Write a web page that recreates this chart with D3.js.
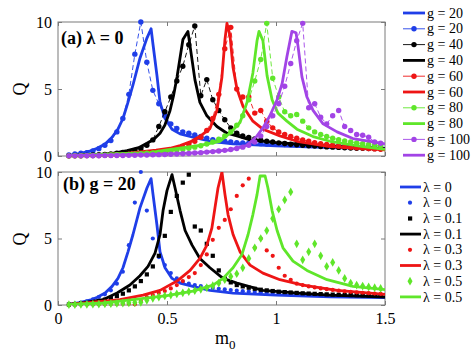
<!DOCTYPE html>
<html><head><meta charset="utf-8">
<script src="https://cdn.jsdelivr.net/npm/d3@7"></script>
<style>body{margin:0;background:#fff}svg{display:block}</style>
</head><body><svg id="c" width="474" height="363"></svg>
<script>
// ---------- DATA ----------
const m0Grid = d3.range(53).map(i => +(0.05 + 0.0275 * i).toFixed(4));
const xTicks = [0, 0.5, 1, 1.5];
const xTickLabels = ["0", "0.5", "1", "1.5"];
const yTicks = [0, 5, 10];
const yTickLabels = ["0", "5", "10"];

// panel (a) lambda = 0 : simulation dots (on m0Grid)
const dotsA_g20 = [0.07,0.15,0.2,0.25,0.37,0.55,0.8,1.15,1.8,2.8,4.6,7.6,10.0,7.0,4.9,3.9,3.0,2.4,2.05,1.8,1.7,1.57,1.45,1.32,1.22,1.15,1.1,1.05,1.0,0.98,0.96,0.94,0.92,0.9,0.88,0.87,0.86,0.84,0.83,0.82,0.81,0.8,0.79,0.78,0.77,0.76,0.75,0.74,0.73,0.72,0.71,0.7,0.7];
const dotsA_g40 = [0.02,0.03,0.04,0.05,0.07,0.09,0.12,0.15,0.2,0.26,0.33,0.42,0.55,0.8,1.2,2.2,3.3,4.4,5.6,6.7,8.3,9.7,4.5,5.7,4.2,3.4,2.7,2.1,1.7,1.5,1.38,1.27,1.18,1.1,1.04,0.98,0.93,0.88,0.84,0.8,0.77,0.74,0.71,0.68,0.66,0.64,0.62,0.6,0.58,0.57,0.56,0.55,0.54];
const dotsA_g60 = [0.01,0.02,0.02,0.03,0.03,0.04,0.05,0.06,0.07,0.09,0.11,0.13,0.16,0.19,0.23,0.28,0.34,0.42,0.52,0.65,0.85,1.1,1.4,1.9,2.8,4.6,8.0,9.6,5.0,4.4,4.4,3.2,3.4,2.6,2.1,1.8,1.6,1.45,1.32,1.2,1.1,1.0,0.92,0.86,0.8,0.75,0.7,0.66,0.62,0.59,0.56,0.53,0.5];
const dotsA_g80 = [0.01,0.02,0.02,0.03,0.04,0.05,0.06,0.07,0.09,0.1,0.12,0.14,0.17,0.2,0.23,0.27,0.31,0.36,0.42,0.49,0.57,0.66,0.77,0.9,1.05,1.25,1.5,1.8,2.3,3.0,4.2,5.6,7.2,9.9,5.8,4.4,3.3,3.0,3.1,2.6,2.1,1.8,1.6,1.45,1.32,1.22,1.13,1.05,0.98,0.92,0.87,0.82,0.78];
const dotsA_g100 = [0.01,0.01,0.01,0.02,0.02,0.02,0.03,0.03,0.04,0.04,0.05,0.06,0.07,0.08,0.09,0.1,0.11,0.13,0.15,0.17,0.19,0.22,0.25,0.29,0.33,0.37,0.42,0.48,0.56,0.66,0.8,1.05,1.5,2.2,3.0,3.9,5.2,6.9,8.6,9.9,3.6,3.9,2.9,2.4,3.0,3.4,2.2,1.9,1.6,1.55,1.4,1.05,0.95];

// panel (a) theory curves
const lineA_g20_m = [0.05,0.10,0.15,0.18,0.216,0.248,0.275,0.298,0.321,0.344,0.376,0.408,0.427,0.436,0.454,0.468,0.491,0.523,0.560,0.619,0.697,0.803,1.0,1.25,1.5];
const lineA_g20_Q = [0.05,0.18,0.38,0.58,0.9,1.4,2.0,2.8,4.0,5.3,7.3,8.8,9.5,8.3,6.0,4.0,2.8,2.0,1.65,1.4,1.1,0.9,0.75,0.62,0.55];
const lineA_g40_m = [0.05,0.179,0.25,0.317,0.37,0.408,0.44,0.468,0.49,0.514,0.53,0.546,0.573,0.596,0.612,0.628,0.651,0.683,0.729,0.775,0.821,0.881,1.0,1.096,1.3,1.5];
const lineA_g40_Q = [0.02,0.1,0.2,0.4,0.62,0.95,1.25,1.7,2.3,3.4,4.5,5.9,8.7,9.3,7.5,5.7,4.0,3.0,2.2,1.7,1.5,1.2,1.0,0.9,0.7,0.55];
const lineA_g60_m = [0.05,0.193,0.3,0.376,0.45,0.514,0.56,0.606,0.65,0.697,0.729,0.752,0.766,0.775,0.789,0.803,0.821,0.849,0.894,0.940,1.018,1.096,1.248,1.5];
const lineA_g60_Q = [0.02,0.1,0.18,0.3,0.43,0.58,0.78,1.05,1.45,2.05,3.4,5.9,8.7,9.9,9.0,6.6,5.0,3.7,2.6,2.0,1.5,1.1,0.7,0.45];
const lineA_g80_m = [0.05,0.193,0.422,0.5,0.651,0.743,0.789,0.835,0.867,0.894,0.913,0.922,0.94,0.959,0.982,1.009,1.05,1.096,1.17,1.248,1.399,1.5];
const lineA_g80_Q = [0.02,0.12,0.25,0.45,0.8,1.1,1.7,2.5,4.0,6.2,8.6,9.3,8.6,6.0,4.2,3.2,2.6,2.0,1.45,1.1,0.7,0.5];
const lineA_g100_m = [0.05,0.422,0.651,0.789,0.867,0.913,0.94,0.972,1.005,1.028,1.05,1.073,1.092,1.101,1.119,1.142,1.17,1.216,1.28,1.353,1.431,1.5];
const lineA_g100_Q = [0.02,0.1,0.25,0.45,0.8,1.5,2.1,3.0,4.2,5.4,7.4,9.3,9.2,8.2,5.9,4.4,3.4,2.4,1.8,1.3,1.1,0.9];

// panel (b) g = 20 : simulation markers (on m0Grid)
const dotsB_l0 = [0.05,0.1,0.18,0.28,0.42,0.6,0.8,1.1,1.6,2.5,4.5,7.7,10.0,7.1,5.0,3.6,3.0,2.4,2.0,1.75,1.6,1.5,1.42,1.35,1.28,1.22,1.17,1.12,1.08,1.04,1.0,0.97,0.95,0.92,0.9,0.88,0.86,0.84,0.82,0.8,0.79,0.78,0.77,0.76,0.75,0.74,0.73,0.72,0.71,0.7,0.69,0.68,0.67];
const dotsB_l01 = [0.03,0.06,0.1,0.15,0.22,0.3,0.4,0.52,0.67,0.85,1.1,1.4,1.8,2.3,2.9,3.7,5.2,7.0,8.2,9.2,9.8,5.9,5.6,4.6,3.7,2.6,2.0,1.7,1.5,1.4,1.3,1.22,1.15,1.1,1.05,1.0,0.97,0.94,0.91,0.88,0.86,0.84,0.82,0.8,0.78,0.77,0.76,0.75,0.74,0.73,0.72,0.71,0.7];
const dotsB_l03 = [0.02,0.02,0.03,0.03,0.04,0.05,0.06,0.07,0.08,0.09,0.1,0.05,0.3,0.6,0.75,0.9,1.05,1.25,1.5,1.8,2.1,2.4,3.0,3.8,4.9,5.8,6.4,7.2,8.2,9.0,9.5,4.3,5.0,4.1,3.7,2.8,2.2,1.9,1.6,1.5,1.4,1.32,1.25,1.19,1.13,1.08,1.03,0.99,0.95,0.92,0.89,0.86,0.84];
const dotsB_l05 = [0.02,0.03,0.04,0.05,0.06,0.07,0.09,0.1,0.12,0.14,0.16,0.18,0.2,0.35,0.5,0.6,0.68,0.75,0.83,0.92,1.0,1.08,1.18,1.3,1.45,1.65,1.9,2.15,2.35,2.8,3.5,4.3,5.0,5.6,6.5,7.2,7.9,8.5,4.6,3.4,4.0,4.6,3.7,2.9,3.2,2.6,2.0,1.65,1.5,1.42,1.36,1.3,1.25];

// panel (b) theory curves
const lineB_l0_m = [0.05,0.10,0.15,0.18,0.216,0.248,0.275,0.298,0.321,0.344,0.376,0.408,0.427,0.436,0.454,0.468,0.491,0.523,0.560,0.619,0.697,0.803,1.0,1.25,1.5];
const lineB_l0_Q = [0.05,0.18,0.38,0.58,0.9,1.4,2.0,2.8,4.0,5.3,7.3,8.8,9.5,8.3,6.0,4.0,2.8,2.0,1.65,1.4,1.1,0.9,0.75,0.62,0.55];
const lineB_l01_m = [0.05,0.115,0.206,0.271,0.33,0.376,0.413,0.445,0.468,0.482,0.5,0.523,0.537,0.56,0.583,0.615,0.651,0.697,0.757,0.821,0.94,1.1,1.248,1.5];
const lineB_l01_Q = [0.05,0.15,0.4,0.9,1.5,2.2,2.9,3.9,5.3,7.1,8.6,9.8,8.8,7.1,5.6,4.5,3.5,2.8,2.0,1.65,1.1,0.9,0.75,0.6];
const lineB_l03_m = [0.05,0.147,0.284,0.39,0.468,0.546,0.606,0.651,0.683,0.706,0.72,0.734,0.752,0.766,0.78,0.803,0.835,0.881,0.94,1.018,1.124,1.28,1.5];
const lineB_l03_Q = [0.05,0.2,0.4,0.75,1.1,1.8,2.6,3.5,4.5,5.8,7.3,8.8,10.0,8.3,6.8,5.3,4.0,3.0,2.4,1.9,1.5,1.1,0.8];
const lineB_l05_m = [0.05,0.206,0.344,0.5,0.619,0.711,0.757,0.803,0.844,0.872,0.894,0.913,0.927,0.95,0.963,0.982,1.005,1.032,1.078,1.142,1.234,1.353,1.5];
const lineB_l05_Q = [0.05,0.15,0.4,0.7,1.05,1.5,2.0,2.8,3.8,5.3,6.8,8.3,9.7,9.7,8.8,7.1,5.6,4.3,3.3,2.6,1.9,1.4,1.15];

const legendA_labels = ["g = 20","g = 20","g = 40","g = 40","g = 60","g = 60","g = 80","g = 80","g = 100","g = 100"];
const legendB_labels = ["λ = 0","λ = 0","λ = 0.1","λ = 0.1","λ = 0.3","λ = 0.3","λ = 0.5","λ = 0.5"];

// ---------- STYLE ----------
const C = {blue:"#1f3ee8", black:"#000000", red:"#ee1515", green:"#5fe62a", purple:"#a244e6"};
const axisColor = "#7a7a7a";
const FONT = "'Liberation Serif','Times New Roman',serif";

const svg = d3.select("#c");
const x = d3.scaleLinear().domain([0, 1.5]).range([58, 385]);
const yA = d3.scaleLinear().domain([0, 10]).range([156, 22]);
const yB = d3.scaleLinear().domain([0, 10]).range([305, 172]);

function frame(y, showX, id) {
  const g = svg.append("g");
  svg.append("clipPath").attr("id", id).append("rect")
    .attr("x", x(0)).attr("y", y(10)).attr("width", x(1.5) - x(0)).attr("height", y(0) - y(10));
  const axes = [
    [d3.axisLeft(y).tickValues(yTicks).tickSize(-4).tickPadding(6).tickFormat((d,i)=>yTickLabels[i]), `translate(${x(0)},0)`],
    [d3.axisRight(y).tickValues(yTicks).tickSize(-4).tickFormat(""), `translate(${x(1.5)},0)`],
    [d3.axisBottom(x).tickValues(xTicks).tickSize(-4).tickPadding(8).tickFormat((d,i)=> showX ? xTickLabels[i] : ""), `translate(0,${y(0)})`],
    [d3.axisTop(x).tickValues(xTicks).tickSize(-4).tickFormat(""), `translate(0,${y(10)})`]
  ];
  axes.forEach(([ax, tr]) => {
    const a = g.append("g").attr("transform", tr).call(ax);
    a.select(".domain").remove();
    a.selectAll("line").attr("stroke", axisColor);
    a.selectAll("text").attr("font-family", FONT).attr("font-size", 16).attr("fill", "#000");
  });
  g.append("rect").attr("x", x(0)).attr("y", y(10)).attr("width", x(1.5) - x(0)).attr("height", y(0) - y(10))
    .attr("fill", "none").attr("stroke", axisColor).attr("stroke-width", 1);
  return g;
}

frame(yA, false, "clipA");
frame(yB, true, "clipB");

function solid(y, ms, qs, color, clip) {
  const pts = ms.map((m, i) => [m, qs[i]]);
  svg.append("path").attr("d", d3.line().x(d => x(d[0])).y(d => y(d[1]))(pts))
    .attr("fill", "none").attr("stroke", color).attr("stroke-width", 2.8)
    .attr("stroke-linejoin", "round").attr("clip-path", `url(#${clip})`);
}
function dotted(y, qs, color, clip, r) {
  const pts = qs.map((q, i) => [m0Grid[i], q]);
  svg.append("path").attr("d", d3.line().x(d => x(d[0])).y(d => y(d[1]))(pts))
    .attr("fill", "none").attr("stroke", color).attr("stroke-width", 0.9)
    .attr("stroke-dasharray", "5,3").attr("clip-path", `url(#${clip})`);
  svg.append("g").selectAll("circle").data(pts).join("circle")
    .attr("cx", d => x(d[0])).attr("cy", d => y(d[1])).attr("r", r).attr("fill", color);
}
function markers(y, qs, color, shape) {
  const pts = qs.map((q, i) => [m0Grid[i], q]);
  const g = svg.append("g");
  if (shape === "circle") {
    g.selectAll("circle").data(pts).join("circle")
      .attr("cx", d => x(d[0])).attr("cy", d => y(d[1])).attr("r", 2.1).attr("fill", color);
  } else if (shape === "square") {
    g.selectAll("rect").data(pts).join("rect")
      .attr("x", d => x(d[0]) - 2.1).attr("y", d => y(d[1]) - 2.1).attr("width", 4.2).attr("height", 4.2).attr("fill", color);
  } else {
    g.selectAll("path").data(pts).join("path")
      .attr("d", d3.symbol(d3.symbolDiamond, 22))
      .attr("transform", d => `translate(${x(d[0])},${y(d[1])})`).attr("fill", color);
  }
}

// panel (a)
solid(yA, lineA_g20_m, lineA_g20_Q, C.blue, "clipA");
dotted(yA, dotsA_g20, C.blue, "clipA", 2.7);
dotted(yA, dotsA_g40, C.black, "clipA", 2.7);
solid(yA, lineA_g40_m, lineA_g40_Q, C.black, "clipA");
dotted(yA, dotsA_g60, C.red, "clipA", 2.7);
solid(yA, lineA_g60_m, lineA_g60_Q, C.red, "clipA");
dotted(yA, dotsA_g80, C.green, "clipA", 2.7);
solid(yA, lineA_g80_m, lineA_g80_Q, C.green, "clipA");
dotted(yA, dotsA_g100, C.purple, "clipA", 2.7);
solid(yA, lineA_g100_m, lineA_g100_Q, C.purple, "clipA");

// panel (b)
solid(yB, lineB_l0_m, lineB_l0_Q, C.blue, "clipB");
markers(yB, dotsB_l0, C.blue, "circle");
markers(yB, dotsB_l01, C.black, "square");
solid(yB, lineB_l01_m, lineB_l01_Q, C.black, "clipB");
markers(yB, dotsB_l03, C.red, "circle");
solid(yB, lineB_l03_m, lineB_l03_Q, C.red, "clipB");
markers(yB, dotsB_l05, C.green, "diamond");
solid(yB, lineB_l05_m, lineB_l05_Q, C.green, "clipB");

// labels
svg.append("text").attr("x", 61).attr("y", 44).attr("font-family", FONT).attr("font-size", 18)
  .attr("font-weight", "bold").text("(a) λ = 0");
svg.append("text").attr("x", 63).attr("y", 190).attr("font-family", FONT).attr("font-size", 18)
  .attr("font-weight", "bold").text("(b) g = 20");
[[89], [239]].forEach(([cy]) => {
  svg.append("text").attr("transform", `translate(26,${cy}) rotate(-90)`).attr("text-anchor", "middle")
    .attr("font-family", FONT).attr("font-size", 18).text("Q");
});
const ml = svg.append("text").attr("x", 215).attr("y", 344).attr("font-family", FONT).attr("font-size", 18);
ml.append("tspan").text("m");
ml.append("tspan").attr("dy", 5).attr("font-size", 13).text("0");

// legends
const legA = [
  {c:C.blue, t:"line"}, {c:C.blue, t:"dotline"}, {c:C.black, t:"dotline"}, {c:C.black, t:"line"},
  {c:C.red, t:"dotline"}, {c:C.red, t:"line"}, {c:C.green, t:"dotline"}, {c:C.green, t:"line"},
  {c:C.purple, t:"dotline"}, {c:C.purple, t:"line"}];
legA.forEach((d, i) => {
  const yy = 13 + i * 15.8;
  if (d.t === "line") {
    svg.append("line").attr("x1", 403).attr("x2", 425).attr("y1", yy).attr("y2", yy)
      .attr("stroke", d.c).attr("stroke-width", 2.8);
  } else {
    svg.append("line").attr("x1", 403).attr("x2", 425).attr("y1", yy).attr("y2", yy)
      .attr("stroke", d.c).attr("stroke-width", 0.9);
    svg.append("circle").attr("cx", 414).attr("cy", yy).attr("r", 2.7).attr("fill", d.c);
  }
  svg.append("text").attr("x", 427).attr("y", yy).attr("dy", "0.33em").attr("font-family", FONT)
    .attr("font-size", 14).text(legendA_labels[i]);
});
const legB = [
  {c:C.blue, t:"line"}, {c:C.blue, t:"circle"}, {c:C.black, t:"square"}, {c:C.black, t:"line"},
  {c:C.red, t:"circle"}, {c:C.red, t:"line"}, {c:C.green, t:"diamond"}, {c:C.green, t:"line"}];
legB.forEach((d, i) => {
  const yy = 187 + i * 15.7;
  if (d.t === "line") {
    svg.append("line").attr("x1", 400).attr("x2", 421).attr("y1", yy).attr("y2", yy)
      .attr("stroke", d.c).attr("stroke-width", 2.8);
  } else if (d.t === "circle") {
    svg.append("circle").attr("cx", 410).attr("cy", yy).attr("r", 2.1).attr("fill", d.c);
  } else if (d.t === "square") {
    svg.append("rect").attr("x", 408).attr("y", yy - 2).attr("width", 4.2).attr("height", 4.2).attr("fill", d.c);
  } else {
    svg.append("path").attr("d", d3.symbol(d3.symbolDiamond, 22)).attr("transform", `translate(410,${yy})`).attr("fill", d.c);
  }
  svg.append("text").attr("x", 423).attr("y", yy).attr("dy", "0.33em").attr("font-family", FONT)
    .attr("font-size", 14).text(legendB_labels[i]);
});
</script></body></html>
